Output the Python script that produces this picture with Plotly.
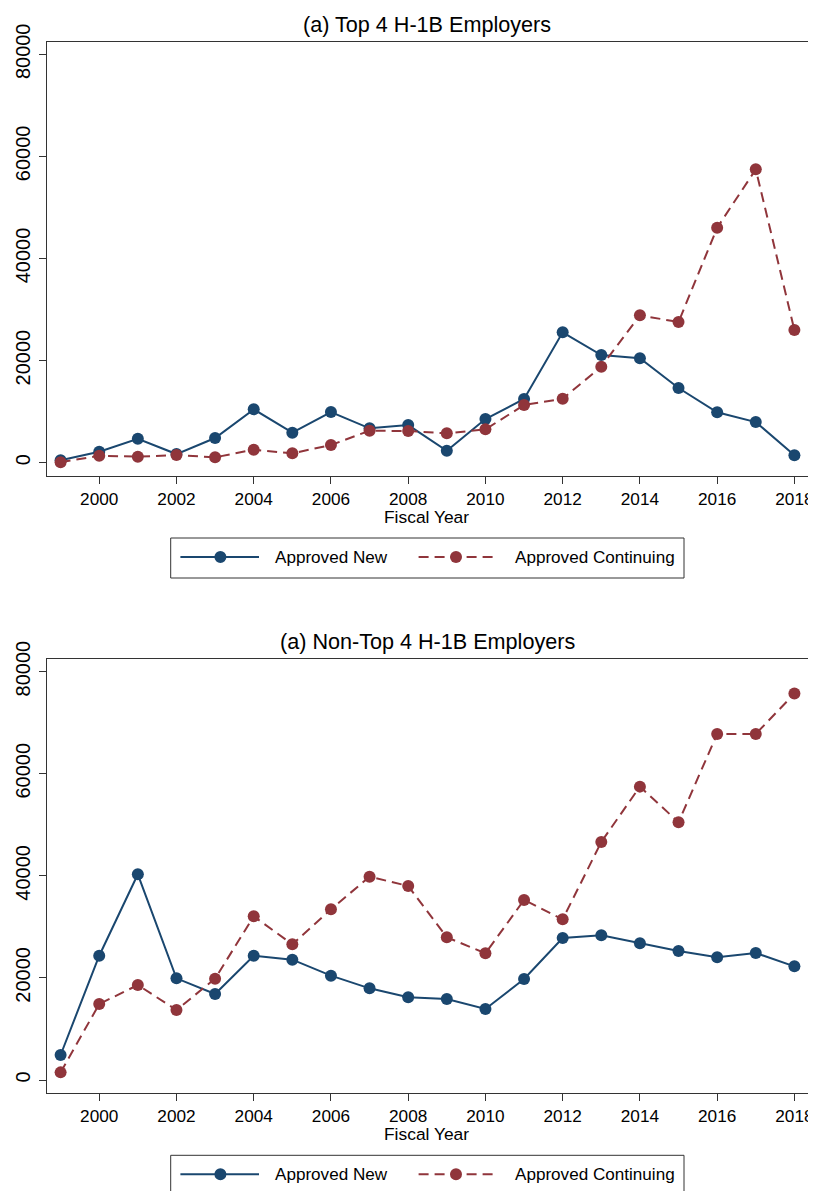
import plotly.graph_objects as go

years = list(range(1999, 2019))

top_new = [500, 2150, 4700, 1700, 4840, 10460, 5880, 9930, 6740, 7380,
           2350, 8560, 12480, 25540, 21100, 20450, 14630, 9870, 7970, 1450]
top_cont = [100, 1370, 1180, 1510, 1060, 2550, 1840, 3470, 6270, 6210,
            5760, 6540, 11300, 12540, 18800, 28870, 27560, 46030, 57470, 26000]

non_new = [4900, 24350, 40300, 19920, 16850, 24350, 23570, 20440, 17960, 16200,
           15870, 13910, 19790, 27820, 28340, 26780, 25270, 24030, 24880, 22270]
non_cont = [1500, 14890, 18610, 13710, 19850, 32070, 26580, 33440, 39830, 38010,
            27960, 24820, 35270, 31480, 46630, 57470, 50490, 67790, 67790, 75690]

titles = ["(a) Top 4 H-1B Employers", "(a) Non-Top 4 H-1B Employers"]
series_names = ["Approved New", "Approved Continuing"]
x_ticks = list(range(2000, 2019, 2))
y_ticks = [0, 20000, 40000, 60000, 80000]
y_ticktext = ["0", "20000", "40000", "60000", "80000"]

BLUE = "#1a476f"
RED = "#90353b"
FONT = "Liberation Sans, Arial, sans-serif"

# page has an 8px body margin; figure sized to fit inside the 816x1191 window
PAD = 8
W, H = 816 - PAD, 1191 - PAD
def px(x):
    return (x - PAD) / W
def py(y):
    return 1 - (y - PAD) / H

fig = go.Figure()

panels = [(top_new, top_cont, "x", "y"), (non_new, non_cont, "x2", "y2")]
for new, cont, xa, ya in panels:
    fig.add_trace(go.Scatter(x=years, y=new, mode="lines+markers", name=series_names[0],
                             line=dict(color=BLUE, width=2),
                             marker=dict(color=BLUE, size=12),
                             xaxis=xa, yaxis=ya, showlegend=False))
    fig.add_trace(go.Scatter(x=years, y=cont, mode="lines+markers", name=series_names[1],
                             line=dict(color=RED, width=2, dash="10px,6px"),
                             marker=dict(color=RED, size=12),
                             xaxis=xa, yaxis=ya, showlegend=False))

xdom = [px(46.7), px(808.3)]
offsets = [0, 617.3]
ax_common = dict(showline=True, mirror=True, linecolor="#333333", linewidth=1,
                 ticks="outside", ticklen=7, tickcolor="#333333", tickwidth=1,
                 showgrid=False, zeroline=False, automargin=False,
                 ticklabeloverflow="allow")

layout = dict(
    width=W, height=H, margin=dict(l=0, r=0, t=0, b=0, autoexpand=False),
    paper_bgcolor="white", plot_bgcolor="white",
    font=dict(family=FONT, color="black"),
    showlegend=False,
)
for i, dy in enumerate(offsets):
    sfx = "" if i == 0 else "2"
    layout["xaxis" + sfx] = dict(domain=xdom, range=[1998.64, 2018.36],
                                 tickvals=x_ticks, tickfont=dict(size=17.2, family=FONT),
                                 anchor="y" + sfx, **ax_common)
    layout["yaxis" + sfx] = dict(domain=[py(476 + dy), py(41.7 + dy)], range=[-2600, 82470],
                                 tickvals=y_ticks, ticktext=y_ticktext,
                                 tickangle=-90, ticklabelstandoff=1,
                                 tickfont=dict(size=20, family=FONT),
                                 anchor="x" + sfx, **ax_common)
fig.update_layout(**layout)

annotations = []
shapes = []
for i, dy in enumerate(offsets):
    annotations.append(dict(text=titles[i], x=px(427.5), y=py(24 + dy), xref="paper", yref="paper",
                            xanchor="center", yanchor="middle", showarrow=False,
                            font=dict(size=21.6, family=FONT, color="black")))
    annotations.append(dict(text="Fiscal Year", x=px(426.5), y=py(517 + dy), xref="paper", yref="paper",
                            xanchor="center", yanchor="middle", showarrow=False,
                            font=dict(size=17.4, family=FONT, color="black")))
    # legend box
    shapes.append(dict(type="rect", xref="paper", yref="paper",
                       x0=px(170.7), x1=px(684), y0=py(538 + dy), y1=py(578 + dy),
                       line=dict(color="#333333", width=1), fillcolor="rgba(0,0,0,0)"))
    ly = py(557 + dy)
    for (x0, x1, xm, xt, col, dash, name) in [
        (180.4, 259, 220.4, 273, BLUE, "solid", series_names[0]),
        (418.6, 498, 456, 512.5, RED, "10px,6px", series_names[1]),
    ]:
        shapes.append(dict(type="line", xref="paper", yref="paper",
                           x0=px(x0), x1=px(x1), y0=ly, y1=ly,
                           line=dict(color=col, width=2, dash=dash)))
        shapes.append(dict(type="circle", xref="paper", yref="paper",
                           xsizemode="pixel", ysizemode="pixel",
                           xanchor=px(xm), yanchor=ly, x0=-6, x1=6, y0=-6, y1=6,
                           line=dict(color=col, width=0), fillcolor=col))
        annotations.append(dict(text=name, x=px(xt), y=ly, xref="paper", yref="paper",
                                xanchor="left", yanchor="middle", showarrow=False,
                                font=dict(size=17.1, family=FONT, color="black")))

fig.update_layout(annotations=annotations, shapes=shapes)
fig.write_html("out.html")
